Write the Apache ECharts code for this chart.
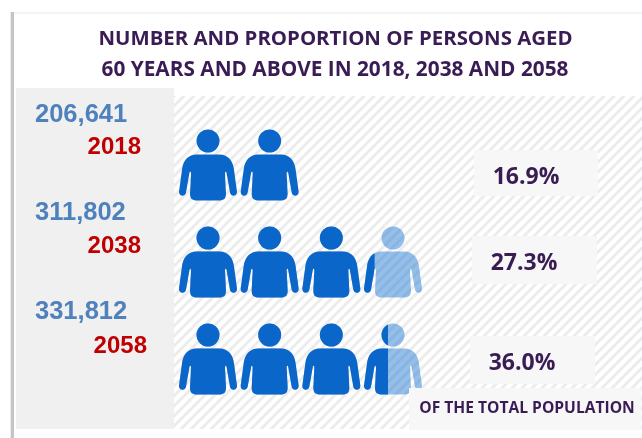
<!DOCTYPE html>
<html>
<head>
<meta charset="utf-8">
<style>
html, body { margin: 0; padding: 0; background: #fff; }
#chart { width: 642px; height: 438px; }
</style>
<script src="https://cdn.jsdelivr.net/npm/echarts@6/dist/echarts.min.js"></script>
</head>
<body>
<div id="chart"></div>
<script>
const years = ['2018', '2038', '2058'];
const persons = ['206,641', '311,802', '331,812'];
const shares = ['16.9%', '27.3%', '36.0%'];
// icons as drawn in the picture: pale outline count and how far the dark fill reaches
const iconsPale = [null, 4, 4];
const iconsFilled = [2, 3.22, 3.44];

const titleLines = ['NUMBER AND PROPORTION OF PERSONS AGED', '60 YEARS AND ABOVE IN 2018, 2038 AND 2058'];
const footNote = 'OF THE TOTAL POPULATION';

const personPath = 'M29 0A11.5 11.5 0 1 1 29 23A11.5 11.5 0 1 1 29 0Z' +
    'M18 25L40 25C50 25 54 32 55 40L58 62C58.5 67 52 68 51 63L47.5 43C47 42 46 42 46 44L47 64C47 69 45 71 40 71L18 71' +
    'C13 71 11 69 11 64L12 44C12 42 11 42 10.5 43L7 63C6 68 -0.5 67 0 62L3 40C4 32 8 25 18 25Z';

function hatchTile() {
    const c = document.createElement('canvas');
    c.width = c.height = 10;
    const g = c.getContext('2d');
    g.fillStyle = '#ffffff';
    g.fillRect(0, 0, 10, 10);
    g.strokeStyle = '#ececec';
    g.lineWidth = 3;
    [[-5, 5, 5, -5], [0, 10, 10, 0], [5, 15, 15, 5]].forEach(p => {
        g.beginPath();
        g.moveTo(p[0], p[1]);
        g.lineTo(p[2], p[3]);
        g.stroke();
    });
    return c;
}

const numberY = [115, 213, 312];
const yearPos = [[141, 147], [141, 246], [147, 346]];
const shareBoxes = [[474, 150, 124, 46], [472, 236, 125, 48], [470, 336, 125, 48]];

const graphics = [
    { type: 'rect', z: 0, shape: { x: 11, y: 12, width: 3, height: 426 }, style: { fill: '#c4c4c4' } },
    { type: 'rect', z: 0, shape: { x: 10, y: 12, width: 1, height: 426 }, style: { fill: '#ececec' } },
    { type: 'rect', z: 0, shape: { x: 14, y: 12, width: 628, height: 2 }, style: { fill: '#f4f4f4' } },
    { type: 'rect', z: 0, shape: { x: 174, y: 96, width: 468, height: 333 }, style: { fill: { image: hatchTile(), repeat: 'repeat' } } },
    { type: 'rect', z: 0, shape: { x: 16, y: 88, width: 158, height: 341 }, style: { fill: '#f0f0f0' } },
    { type: 'text', z: 10, style: { x: 335.5, y: 39, text: titleLines[0], align: 'center', verticalAlign: 'middle', fill: '#3a1c55', font: 'bold 20.4px "Open Sans"' } },
    { type: 'text', z: 10, style: { x: 335, y: 70, text: titleLines[1], align: 'center', verticalAlign: 'middle', fill: '#3a1c55', font: 'bold 20.8px "Open Sans"' } },
    { type: 'rect', z: 10, shape: { x: 409, y: 388, width: 232, height: 42 }, style: { fill: '#f7f7f7' } },
    { type: 'text', z: 11, style: { x: 527, y: 409, text: footNote, align: 'center', verticalAlign: 'middle', fill: '#3a1c55', font: 'bold 15.6px "Open Sans"' } }
];

years.forEach((y, i) => {
    graphics.push(
        { type: 'text', z: 10, style: { x: 35, y: numberY[i], text: persons[i], align: 'left', verticalAlign: 'middle', fill: '#4f81bd', font: 'bold 25.5px "Liberation Sans"' } },
        { type: 'text', z: 10, style: { x: yearPos[i][0], y: yearPos[i][1], text: y, align: 'right', verticalAlign: 'middle', fill: '#c00000', font: 'bold 24px "Liberation Sans"' } },
        { type: 'rect', z: 1, shape: { x: shareBoxes[i][0], y: shareBoxes[i][1], width: shareBoxes[i][2], height: shareBoxes[i][3] }, style: { fill: '#f7f7f7' } },
        { type: 'text', z: 10, style: { x: shareBoxes[i][0] + 52, y: shareBoxes[i][1] + 27, text: shares[i], align: 'center', verticalAlign: 'middle', fill: '#3a1c55', font: 'bold 23px "Open Sans"' } }
    );
});

const chart = echarts.init(document.getElementById('chart'), null, { renderer: 'canvas' });
chart.setOption({
    animation: false,
    grid: { left: 179, top: 116.5, width: 243, height: 291 },
    xAxis: { type: 'value', min: 0, max: 4, show: false },
    yAxis: { type: 'category', data: years, inverse: true, show: false },
    graphic: graphics,
    series: [{
        type: 'pictorialBar',
        data: iconsPale,
        symbol: 'path://' + personPath,
        symbolSize: [58, 71],
        symbolRepeat: true,
        symbolMargin: 2.75,
        symbolPosition: 'start',
        barGap: '-100%',
        itemStyle: { color: 'rgba(0,102,204,0.42)' },
        z: 2
    }, {
        type: 'pictorialBar',
        data: iconsFilled,
        symbol: 'path://' + personPath,
        symbolSize: [58, 71],
        symbolRepeat: true,
        symbolMargin: 2.75,
        symbolClip: true,
        symbolBoundingData: 4,
        symbolPosition: 'start',
        barGap: '-100%',
        itemStyle: { color: '#0a66c8' },
        z: 3
    }]
});
</script>
</body>
</html>
